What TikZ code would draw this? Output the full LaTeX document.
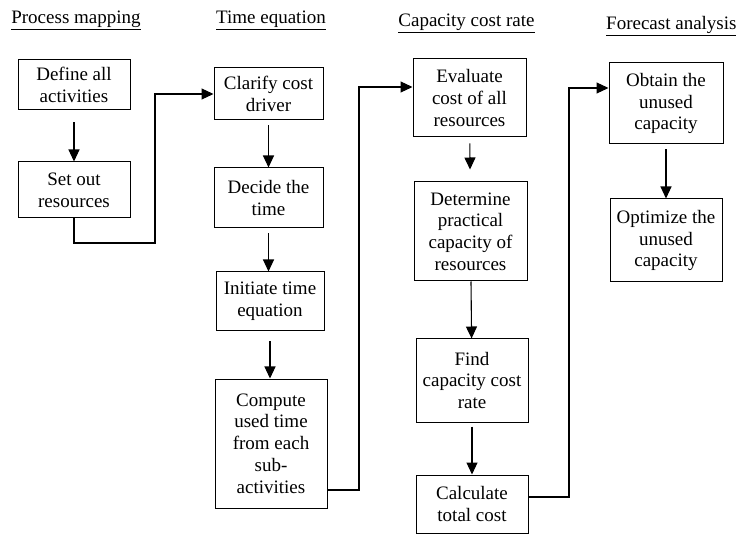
\documentclass[tikz,border=0pt]{standalone}
\usepackage{fontspec}
\setmainfont{Liberation Serif}
\usetikzlibrary{arrows.meta}
\tikzset{
	box/.style 2 args={draw,line width=1pt,align=center,inner sep=0pt,minimum width=#1,minimum height=#2},
	head/.style={anchor=base,inner sep=0pt},
	arr/.style={line width=1.1pt,-{Triangle[length=12pt,width=11pt]}}
}

\begin{document}
\begin{tikzpicture}[x=1pt,y=-1pt,font=\fontsize{19}{21.7}\selectfont]
						\useasboundingbox (0,0) rectangle (736,534);

						% column titles
						\node (h1) [head] at (76,24) {\underline{Process mapping}};
						\node (h2) [head] at (271,24) {\underline{Time equation}};
						\node (h3) [head] at (466.5,27) {\underline{Capacity cost rate}};
						\node (h4) [head,anchor=base west] at (606,30) {\underline{Forecast analysis}};

						\node (define) [box={112pt}{50pt}] at (74,85) {Define all\\activities};
						\node (setout) [box={112pt}{56pt}] at (74,190) {Set out\\resources};

						\node (clarify) [box={109pt}{52pt}] at (268.5,94) {Clarify cost\\driver};
						\node (decide) [box={109pt}{60pt}] at (268.5,198) {Decide the\\time};
						\node (initiate) [box={108pt}{59pt}] at (270,301.5) {Initiate time\\equation};
						\node (compute) [box={112pt}{129pt}] at (271,443.5) {Compute\\used time\\from each\\sub-\\activities};

						\node (evaluate) [box={113pt}{78pt}] at (469.5,98) {Evaluate\\cost of all\\resources};
						\node (determine) [box={113pt}{99pt}] at (470.5,231.5) {Determine\\practical\\capacity of\\resources};
						\node (find) [box={112pt}{83pt}] at (472,380.5) {Find\\capacity cost\\rate};
						\node (calc) [box={112pt}{58pt}] at (472,504) {Calculate\\total cost};

						\node (obtain) [box={114pt}{81pt}] at (666,103.5) {Obtain the\\unused\\capacity};
						\node (optimize) [box={112pt}{83pt}] at (666,240.5) {Optimize the\\unused\\capacity};

						% arrows inside the columns
						\draw [arr,shorten <=12pt] (define) -- (setout);
						\draw [arr,shorten <=5pt] (clarify) -- (decide);
						\draw [arr,shorten <=5pt] (decide) -- (decide |- initiate.north);
						\draw [arr,shorten <=10pt] (initiate) -- (initiate |- compute.north);
						\draw [arr,shorten <=6pt,shorten >=12pt] (evaluate) -- (determine);
						\draw [arr] (determine) -- (find);
						\draw [arr,shorten <=4pt] (find) -- (calc);
						\draw [arr,shorten <=5pt] (obtain) -- (optimize);

						% links between the columns
						\coordinate (k1) at (155,243);
						\draw [arr] (setout.south) |- (k1) |- (clarify.west);
						\coordinate (k2) at (359,490);
						\coordinate (k3) at (359,87);
						\draw [arr] (compute.east |- k2) -- (k2) -- (k3) -- (evaluate.west |- k3);
						\coordinate (k4) at (569,497);
						\coordinate (k5) at (569,88);
						\draw [arr] (calc.east |- k4) -- (k4) -- (k5) -- (obtain.west |- k5);
					\end{tikzpicture}
\end{document}
